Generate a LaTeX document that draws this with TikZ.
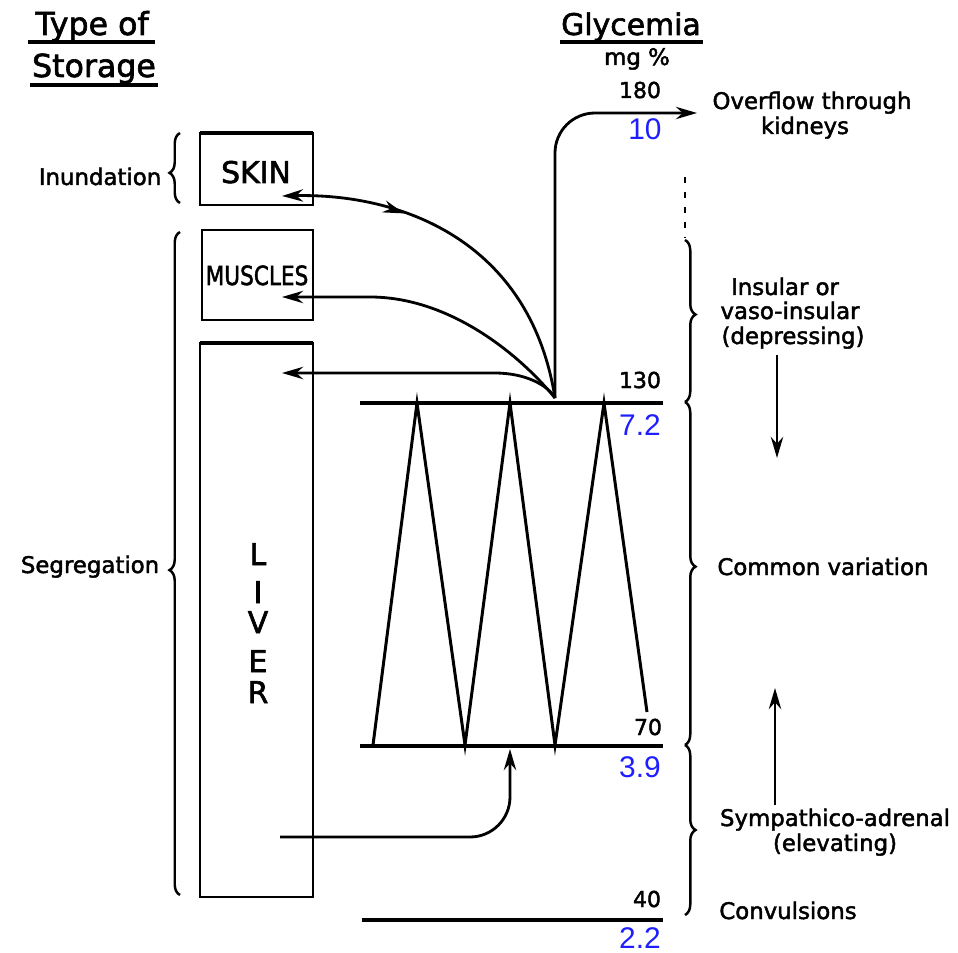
\documentclass[tikz,border=0pt]{standalone}
\usepackage{fontspec}
\setmainfont{DejaVu Sans}
\newfontfamily\lblfont{DejaVu Sans}[FakeBold=2]
\newfontfamily\bluefont{Liberation Sans}
\usetikzlibrary{arrows.meta,decorations.pathreplacing,decorations.markings}
\definecolor{mmblue}{RGB}{30,30,255}
\begin{document}
\begin{tikzpicture}[x=0.02cm,y=-0.02cm,
  lbl/.style={font=\lblfont\fontsize{13}{15}\selectfont, inner sep=0pt, anchor=base},
  hdr/.style={font=\lblfont\fontsize{18}{20}\selectfont, inner sep=0pt, anchor=base},
  num/.style={font=\lblfont\fontsize{12.5}{14}\selectfont, inner sep=0pt, anchor=base},
  bnum/.style={font=\bluefont\fontsize{17}{19}\selectfont, text=mmblue, inner sep=0pt, anchor=base},
  organ/.style={draw, line width=1.4pt, inner sep=0pt, outer sep=0pt},
  letter/.style={font=\lblfont\fontsize{17}{19}\selectfont, inner sep=0pt, anchor=base},
  level/.style={line width=2pt},
  arr/.style={-{Stealth[length=12pt,width=7pt]}, line width=1.6pt},
  arrL/.style={{Stealth[length=12pt,width=7pt]}-, line width=1.6pt},
  brc/.style={line width=1.4pt, decorate, decoration={brace, amplitude=6pt, aspect=#1}}
]
\useasboundingbox (0,0) rectangle (958,953);

% headers
\node[hdr] (typeof) at (92,35) {Type of};
\node[hdr] (storage) at (94,77) {Storage};
\draw[line width=1.8pt] (28,42) -- (155,42);
\draw[line width=1.8pt] (30,85) -- (158,85);
\node[hdr, font=\lblfont\fontsize{17}{19}\selectfont] (glyc) at (631,35) {Glycemia};
\draw[line width=1.8pt] (560,42) -- (703,42);
\node[num, font=\lblfont\fontsize{13}{15}\selectfont] (mgp) at (637,65) {mg \%};

% organ boxes
\node[organ, minimum width=2.26cm, minimum height=1.44cm] (skin) at (256.5,169) {};
\draw[line width=2.6pt] (skin.north west) -- (skin.north east);
\node[lbl, font=\lblfont\fontsize{17}{19}\selectfont] (skint) at (256,183) {SKIN};
\node[organ, minimum width=2.22cm, minimum height=1.8cm] (muscles) at (257.5,275) {};
\node[lbl, font=\lblfont\fontsize{15}{17}\selectfont] (musclest) at (257,285) {\scalebox{0.82}[1]{MUSCLES}};
\node[organ, minimum width=2.26cm, minimum height=11.08cm] (liver) at (256.5,620) {};
\draw[line width=2.6pt] (liver.north west) -- (liver.north east);
\node[letter] (lvL) at (258,565) {L};
\node[letter] (lvI) at (258,603) {I};
\node[letter] (lvV) at (258,633) {V};
\node[letter] (lvE) at (258,672) {E};
\node[letter] (lvR) at (258,703) {R};

% left braces
\draw[brc=0.43] (180,203) -- (180,133);
\node[lbl] (inund) at (100,185) {Inundation};
\draw[brc=0.49] (180,895) -- (180,232);
\node[lbl] (segr) at (90,573) {Segregation};

% levels
\draw[level] (360,403) -- (663,403);
\draw[level] (360,746) -- (663,746);
\draw[line width=2.6pt] (362,920) -- (663,920);
\node[num] (n180) at (640,98) {180};
\node[bnum] (b10) at (645,140) {10};
\node[num] (n130) at (640,388) {130};
\node[bnum] (b72) at (640,435) {7.2};
\node[num] (n70) at (648,735) {70};
\node[bnum] (b39) at (640,777) {3.9};
\node[num] (n40) at (647,907) {40};
\node[bnum] (b22) at (640,948) {2.2};

% zigzag
\draw[line width=1.7pt, line join=miter] (373,745) -- (417,403) -- (465,745) -- (510,403) -- (555,745) -- (604,403) -- (647,712);

% connectors from junction
\coordinate (J) at (555,398);
\coordinate (kid) at (697,113);
\coordinate (skinin) at (282,196);
\coordinate (musin) at (282,297);
\coordinate (livin) at (282,373);
\coordinate (livout) at (280,837);
\coordinate (up70) at (510,749);
\draw[arr, rounded corners=0.8cm] (J) |- (kid);
\draw[arrL, postaction={decorate}, decoration={markings, mark=at position 0.33 with {\arrow{Stealth[length=12pt,width=7pt]}}}]
  (skinin) .. controls (400,193) and (530,240) .. (J);
\draw[arrL] (musin) -- (370,297) .. controls (450,297) and (520,355) .. (J);
\draw[arrL] (livin) -- (495,373) .. controls (525,373) and (548,385) .. (J);
\draw[arr, rounded corners=0.8cm] (livout) -| (up70);

% right side
\node[lbl] (overflow) at (812,109) {Overflow through};
\node[lbl] (kidneys) at (805,134) {kidneys};
\draw[line width=1.5pt, dash pattern=on 3.5pt off 5pt] (685,177) -- (685,238);
\draw[brc=0.46] (685,240) -- (685,402);
\draw[brc=0.48] (685,402) -- (685,745);
\draw[brc=0.5] (685,745) -- (685,915);
\node[lbl] (insular) at (785,295) {Insular or};
\node[lbl] (vaso) at (790,319) {vaso-insular};
\node[lbl] (depr) at (793,344) {(depressing)};
\coordinate (dnA) at (777,355);
\coordinate (dnB) at (777,458);
\draw[arr] (dnA) -- (dnB);
\node[lbl] (common) at (823,575) {Common variation};
\coordinate (upA) at (775,805);
\coordinate (upB) at (775,688);
\draw[arr] (upA) -- (upB);
\node[lbl] (symp) at (835,826) {Sympathico-adrenal};
\node[lbl] (elev) at (835,851) {(elevating)};
\node[lbl] (conv) at (788,919) {Convulsions};
\end{tikzpicture}
\end{document}
